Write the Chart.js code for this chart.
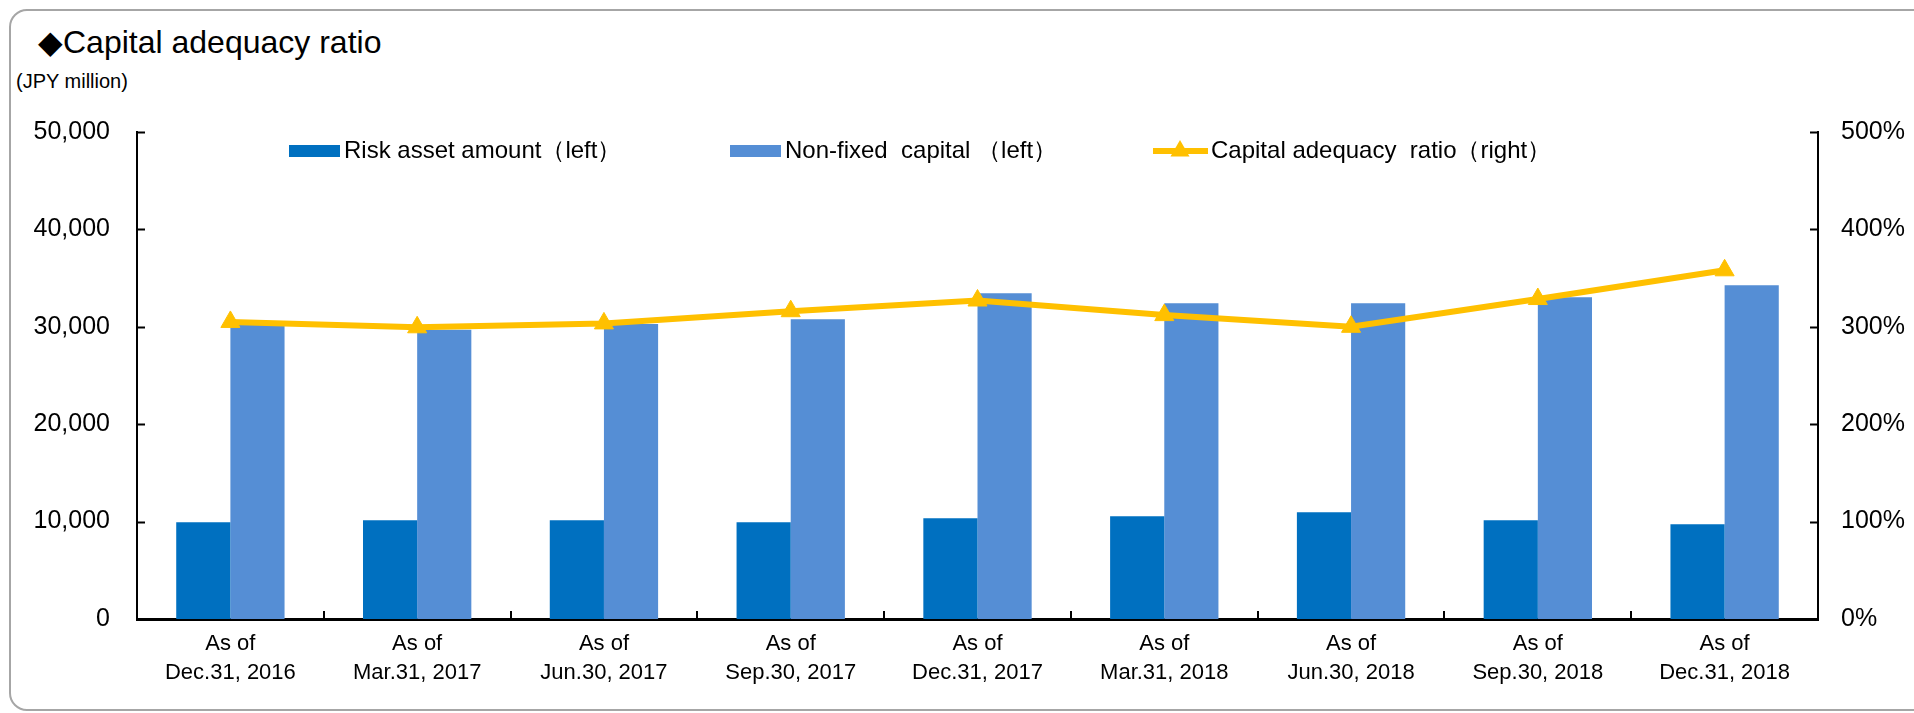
<!DOCTYPE html>
<html>
<head>
<meta charset="utf-8">
<script src="https://cdn.jsdelivr.net/npm/chart.js@4.4.1/dist/chart.umd.min.js"></script>
<style>
  html, body { margin: 0; padding: 0; background: #fff; }
  body { width: 1914px; height: 713px; position: relative; overflow: hidden; font-family: "Liberation Sans", Arial, sans-serif; }
  #frame { position: absolute; left: 9px; top: 9px; width: 1980px; height: 698px; border: 2px solid #a6a6a6; border-radius: 18px; }
  #title { position: absolute; left: 38px; top: 26px; font-size: 32px; line-height: 32px; color: #000; white-space: nowrap; }
  #unit { position: absolute; left: 16px; top: 70px; font-size: 20px; color: #000; white-space: nowrap; }
  #wrap { position: absolute; left: 0; top: 0; width: 1914px; height: 713px; }
</style>
</head>
<body>
<div id="frame"></div>
<div id="title">◆Capital adequacy ratio</div>
<div id="unit">(JPY million)</div>
<div id="wrap"><canvas id="chart_area" width="1914" height="713"></canvas></div>
<script>
'use strict';

//Data
var categories = [
    ['As of', 'Dec.31, 2016'],
    ['As of', 'Mar.31, 2017'],
    ['As of', 'Jun.30, 2017'],
    ['As of', 'Sep.30, 2017'],
    ['As of', 'Dec.31, 2017'],
    ['As of', 'Mar.31, 2018'],
    ['As of', 'Jun.30, 2018'],
    ['As of', 'Sep.30, 2018'],
    ['As of', 'Dec.31, 2018']
];
var riskAsset = [9930, 10140, 10140, 9930, 10340, 10550, 10960, 10140, 9720];        //left, JPY million
var nonFixedCapital = [30200, 29700, 30300, 30770, 33440, 32410, 32410, 33030, 34260];
var adequacyRatio = [305, 299.5, 303.5, 316, 327, 312, 300, 328.5, 358];           //right, %
var leftTicks = [0, 10000, 20000, 30000, 40000, 50000];
var rightTicks = [0, 100, 200, 300, 400, 500];

var seriesNames = ['Risk asset amount（left）', 'Non-fixed  capital （left）', 'Capital adequacy  ratio（right）'];
var fontFamily = '"Liberation Sans", Arial, sans-serif';

var riskColor = '#0070C0';
var capitalColor = '#558ED5';
var ratioColor = '#FFC000';

function drawTriangle(ctx, x, y, r) {
    ctx.beginPath();
    ctx.moveTo(x, y - r);
    ctx.lineTo(x + r * 0.866, y + r * 0.5);
    ctx.lineTo(x - r * 0.866, y + r * 0.5);
    ctx.closePath();
    ctx.fill();
}

//Inward tick marks like the original
var innerTicks = {
    id: 'innerTicks',
    afterDraw: function(chart) {
        var ctx = chart.ctx;
        var area = chart.chartArea;
        var len = 8;
        ctx.save();
        ctx.strokeStyle = '#000';
        ctx.lineWidth = 2;
        ctx.beginPath();
        chart.scales.y.ticks.forEach(function(t) {
            var py = Math.round(chart.scales.y.getPixelForValue(t.value)) + 0.5;
            ctx.moveTo(area.left, py);
            ctx.lineTo(area.left + len, py);
        });
        chart.scales.y1.ticks.forEach(function(t) {
            var py = Math.round(chart.scales.y1.getPixelForValue(t.value)) + 0.5;
            ctx.moveTo(area.right, py);
            ctx.lineTo(area.right - len, py);
        });
        var xs = chart.scales.x;
        for (var i = 1; i < categories.length; i++) {
            var px = Math.round((xs.getPixelForTick(i - 1) + xs.getPixelForTick(i)) / 2);
            ctx.moveTo(px, area.bottom);
            ctx.lineTo(px, area.bottom - len);
        }
        ctx.stroke();
        ctx.restore();
    }
};

//Legend row inside the plot
var legendRow = {
    id: 'legendRow',
    afterDraw: function(chart) {
        var ctx = chart.ctx;
        var area = chart.chartArea;
        var y = area.top + 19;
        var offsets = [152, 593, 1016];
        ctx.save();
        ctx.font = '24px ' + fontFamily;
        ctx.fillStyle = '#000';
        ctx.textBaseline = 'middle';
        offsets.forEach(function(off, i) {
            var x = area.left + off;
            if (i < 2) {
                ctx.fillStyle = i === 0 ? riskColor : capitalColor;
                ctx.fillRect(x, y - 6, 51, 12);
                ctx.fillStyle = '#000';
                ctx.fillText(seriesNames[i], x + 55, y);
            } else {
                ctx.strokeStyle = ratioColor;
                ctx.lineWidth = 6;
                ctx.beginPath();
                ctx.moveTo(x, y);
                ctx.lineTo(x + 55, y);
                ctx.stroke();
                ctx.fillStyle = ratioColor;
                drawTriangle(ctx, x + 27, y, 11);
                ctx.fillStyle = '#000';
                ctx.fillText(seriesNames[i], x + 58, y);
            }
        });
        ctx.restore();
    }
};

var config = {
    type: 'bar',
    data: {
        labels: categories,
        datasets: [
            {
                type: 'line',
                label: seriesNames[2],
                data: adequacyRatio,
                yAxisID: 'y1',
                borderColor: ratioColor,
                backgroundColor: ratioColor,
                borderWidth: 6,
                tension: 0,
                pointStyle: 'triangle',
                pointRadius: 11,
                pointBorderWidth: 1,
                pointBackgroundColor: ratioColor,
                pointBorderColor: ratioColor
            },
            {
                label: seriesNames[0],
                data: riskAsset,
                yAxisID: 'y',
                backgroundColor: riskColor,
                borderWidth: 0,
                barPercentage: 1,
                categoryPercentage: 0.58
            },
            {
                label: seriesNames[1],
                data: nonFixedCapital,
                yAxisID: 'y',
                backgroundColor: capitalColor,
                borderWidth: 0,
                barPercentage: 1,
                categoryPercentage: 0.58
            }
        ]
    },
    options: {
        responsive: false,
        animation: false,
        layout: { padding: { top: 132, left: 0, right: 0, bottom: 0 } },
        plugins: {
            legend: { display: false },
            tooltip: { enabled: false },
            title: { display: false }
        },
        scales: {
            x: {
                grid: { display: false, drawTicks: false },
                border: { display: true, color: '#000', width: 3 },
                ticks: {
                    color: '#000',
                    font: { size: 22, family: fontFamily, lineHeight: 1.3 },
                    padding: 11,
                    maxRotation: 0,
                    autoSkip: false
                },
                afterFit: function(scale) { scale.height = 94; }
            },
            y: {
                position: 'left',
                min: leftTicks[0],
                max: leftTicks[leftTicks.length - 1],
                grid: { display: false, drawTicks: false },
                border: { display: true, color: '#000', width: 2 },
                ticks: {
                    stepSize: 10000,
                    color: '#000',
                    font: { size: 25, family: fontFamily },
                    padding: 27,
                    callback: function(v) { return v.toLocaleString('en-US'); }
                },
                afterFit: function(scale) { scale.width = 137; }
            },
            y1: {
                position: 'right',
                min: rightTicks[0],
                max: rightTicks[rightTicks.length - 1],
                grid: { display: false, drawTicks: false },
                border: { display: true, color: '#000', width: 2 },
                ticks: {
                    stepSize: 100,
                    color: '#000',
                    font: { size: 25, family: fontFamily },
                    padding: 23,
                    callback: function(v) { return v + '%'; }
                },
                afterFit: function(scale) { scale.width = 96; }
            }
        }
    },
    plugins: [innerTicks, legendRow]
};

var ctx = document.getElementById('chart_area').getContext('2d');
window.myChart = new Chart(ctx, config);
</script>
</body>
</html>
